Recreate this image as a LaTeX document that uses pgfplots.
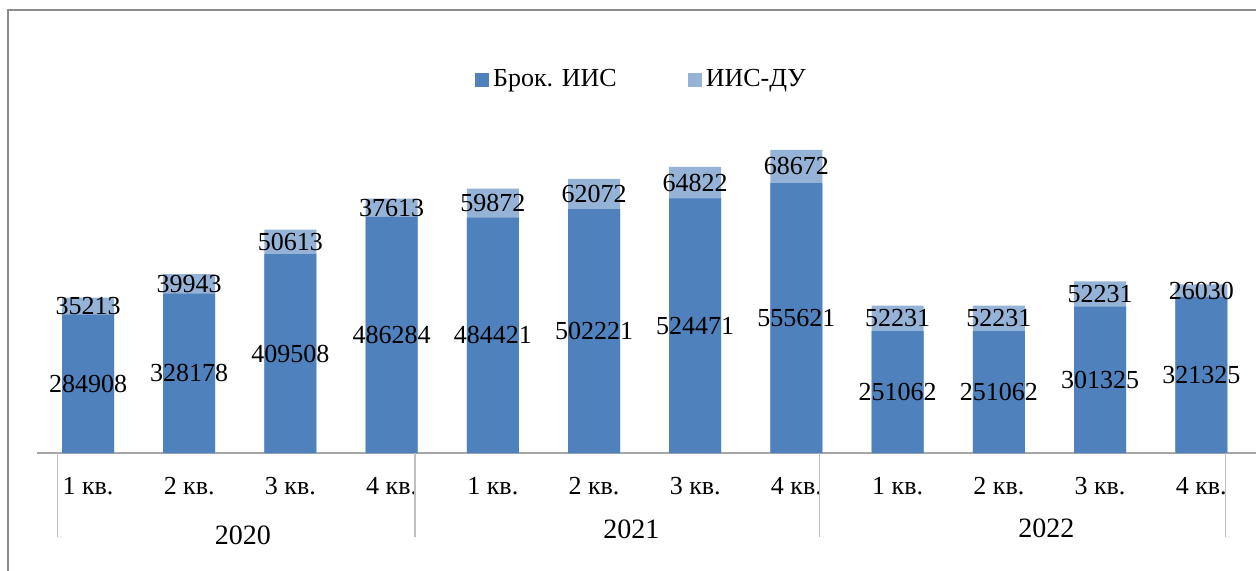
\documentclass[border=0pt]{standalone}
\usepackage{pgfplots}
\pgfplotsset{compat=1.18}
\usepackage{pgfplotstable}
\usepackage{fontspec}
\setmainfont{Liberation Serif}

\definecolor{brok}{HTML}{4F81BD}
\definecolor{iisdu}{HTML}{95B3D7}
\definecolor{frame}{HTML}{8C8C8C}
\definecolor{axisgray}{HTML}{A6A6A6}
\definecolor{sepgray}{HTML}{BFBFBF}

% quarter index, brokerage IIS accounts, IIS with trust management
\pgfplotstableread{
x  brok   iis
0  284908 35213
1  328178 39943
2  409508 50613
3  486284 37613
4  484421 59872
5  502221 62072
6  524471 64822
7  555621 68672
8  251062 52231
9  251062 52231
10 301325 52231
11 321325 26030
}\datatable

\begin{document}
\begin{tikzpicture}
\fontsize{13}{15}\selectfont
\useasboundingbox (0,0) rectangle (628pt,-285.5pt);
% chart area frame (left and top edges)
\draw[frame, line width=0.75pt] (4pt,-285.5pt) -- (4pt,-5pt) -- (628pt,-5pt);
\begin{axis}[
  at={(18.5pt,-226.5pt)}, anchor=south west,
  scale only axis, width=609.5pt, height=170pt,
  xmin=-0.504, xmax=11.541, ymin=0, ymax=700000,
  axis y line=none, axis x line*=bottom,
  x axis line style={axisgray, line width=0.65pt, -},
  ytick=\empty,
  xtick={0,...,11},
  xticklabels={1 кв.,2 кв.,3 кв.,4 кв.,1 кв.,2 кв.,3 кв.,4 кв.,1 кв.,2 кв.,3 кв.,4 кв.},
  major tick length=0pt,
  xticklabel style={anchor=center, yshift=-16.5pt, font=\fontsize{13}{15}\selectfont},
  clip=false,
  legend columns=2,
  legend style={at={(rel axis cs:0.4967,1.097)}, anchor=center, draw=none, fill=none,
    font=\fontsize{13}{15}\selectfont,
    /tikz/every even column/.append style={column sep=33.5pt}},
  legend image code/.code={\fill[#1, draw=none] (0pt,-3.5pt) rectangle (7pt,3.5pt);},
]
\addlegendimage{fill=brok, draw=none}
\addlegendentry{Брок. ИИС}
\addlegendimage{fill=iisdu, draw=none}
\addlegendentry{ИИС-ДУ}

% full stack height in light blue, brokerage part over it
\addplot[ybar, bar width=26pt, bar shift=0pt, fill=iisdu, draw=none, forget plot]
  table[x=x, y expr=\thisrow{brok}+\thisrow{iis}] {\datatable};
\addplot[ybar, bar width=26pt, bar shift=0pt, fill=brok, draw=none, forget plot]
  table[x=x, y=brok] {\datatable};

% value labels centred in each segment
\addplot[draw=none, forget plot, nodes near coords, point meta=explicit symbolic,
  every node near coord/.append style={anchor=center, text=black, inner sep=0pt,
    font=\fontsize{13}{15}\selectfont}]
  table[x=x, y expr=\thisrow{brok}/2, meta=brok] {\datatable};
\addplot[draw=none, forget plot, nodes near coords, point meta=explicit symbolic,
  every node near coord/.append style={anchor=center, text=black, inner sep=0pt,
    font=\fontsize{13}{15}\selectfont}]
  table[x=x, y expr=\thisrow{brok}+\thisrow{iis}/2, meta=iis] {\datatable};

% year group separators and labels
\foreach \s in {-0.3,3.23,7.23,11.24}{
  \edef\tmp{\noexpand\draw[sepgray, line width=0.6pt] (axis cs:\s,0) -- ++(0pt,-42pt);}\tmp
}
\node[font=\fontsize{14}{16}\selectfont] at ([yshift=-41pt]axis cs:1.53,0) {2020};
\node[font=\fontsize{14}{16}\selectfont] at ([yshift=-38pt]axis cs:5.37,0) {2021};
\node[font=\fontsize{14}{16}\selectfont] at ([yshift=-37.5pt]axis cs:9.47,0) {2022};
\end{axis}
\end{tikzpicture}
\end{document}
